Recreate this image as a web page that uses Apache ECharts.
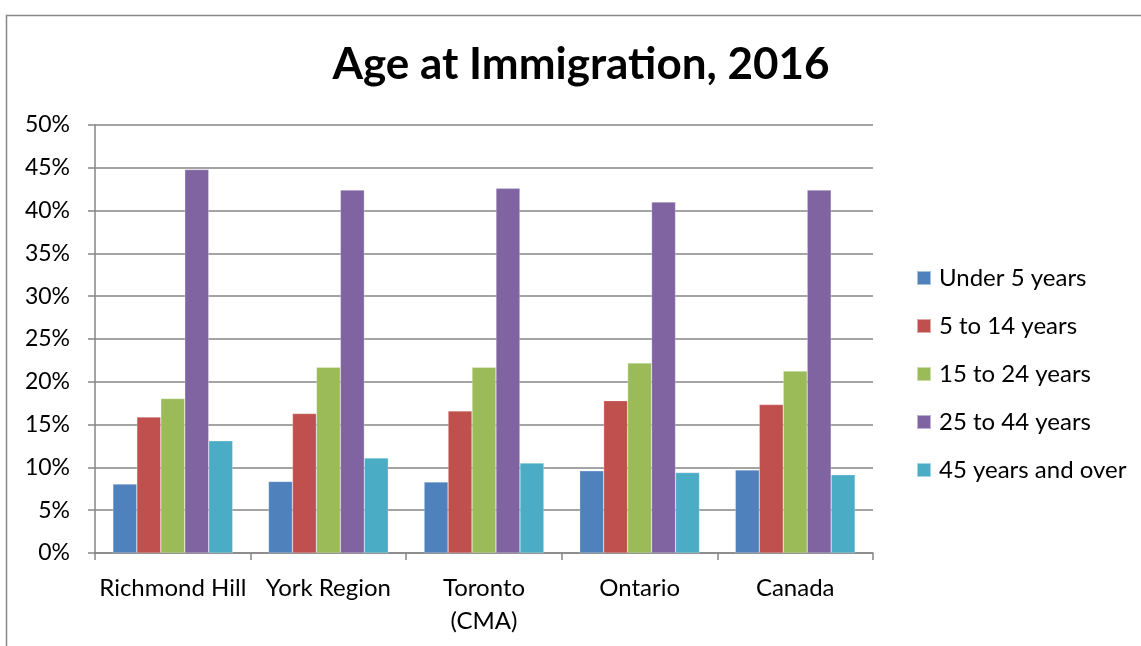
<!DOCTYPE html>
<html><head><meta charset="utf-8">
<script src="https://cdn.jsdelivr.net/npm/echarts@6/dist/echarts.min.js"></script>
<style>html,body{margin:0;padding:0;background:#fff}#c{width:1141px;height:646px}</style>
</head><body><div id="c"></div>
<script>
const categories = ['Richmond Hill', 'York Region', 'Toronto\n(CMA)', 'Ontario', 'Canada'];
const seriesNames = ['Under 5 years', '5 to 14 years', '15 to 24 years', '25 to 44 years', '45 years and over'];
const under5 = [8.05, 8.35, 8.3, 9.6, 9.7];
const from5to14 = [15.9, 16.3, 16.6, 17.8, 17.35];
const from15to24 = [18.05, 21.7, 21.7, 22.2, 21.25];
const from25to44 = [44.8, 42.4, 42.6, 41.0, 42.4];
const over45 = [13.1, 11.1, 10.5, 9.4, 9.15];
const colors = ['#4F81BD', '#C0504D', '#9BBB59', '#8064A2', '#4BACC6'];
const values = [under5, from5to14, from15to24, from25to44, over45];

const chart = echarts.init(document.getElementById('c'));
const font = 'Lato, "Open Sans", sans-serif';
chart.setOption({
  animation: false,
  color: colors,
  title: {
    text: 'Age at Immigration, 2016',
    left: 581, top: 43, textAlign: 'center', padding: 0,
    textStyle: {fontFamily: font, fontWeight: 'bold', fontSize: 44, color: '#000'}
  },
  graphic: [{
    type: 'rect', left: 4, top: 13, silent: true,
    shape: {width: 1200, height: 700},
    style: {fill: 'none', stroke: '#888', lineWidth: 1.5}
  }],
  legend: {
    orient: 'vertical', left: 916, top: 266, padding: 0,
    itemWidth: 14, itemHeight: 14, itemGap: 24,
    icon: 'rect',
    textStyle: {fontFamily: font, fontSize: 24, color: '#000', lineHeight: 24, padding: [0,0,0,3]},
    data: seriesNames
  },
  grid: {left: 95, right: 268, top: 125, bottom: 93, containLabel: false},
  xAxis: {
    type: 'category', data: categories,
    axisLine: {lineStyle: {color: '#868686', width: 1.5}},
    axisTick: {show: true, length: 7, lineStyle: {color: '#868686', width: 1.5}},
    axisLabel: {fontFamily: font, fontSize: 24, color: '#000', margin: 19, lineHeight: 33, interval: 0}
  },
  yAxis: {
    type: 'value', min: 0, max: 50, interval: 5,
    axisLine: {show: true, lineStyle: {color: '#868686', width: 1.5}},
    axisTick: {show: true, length: 7, lineStyle: {color: '#868686', width: 1.5}},
    splitLine: {lineStyle: {color: '#868686', width: 1.5}},
    axisLabel: {fontFamily: font, fontSize: 23, color: '#000', margin: 25, formatter: '{value}%'}
  },
  series: seriesNames.map((n, i) => ({
    name: n, type: 'bar', data: values[i],
    barGap: '0%', barCategoryGap: '23%',
    itemStyle: {borderColor: 'rgba(255,255,255,0.5)', borderWidth: 0.5}
  }))
});
</script></body></html>
